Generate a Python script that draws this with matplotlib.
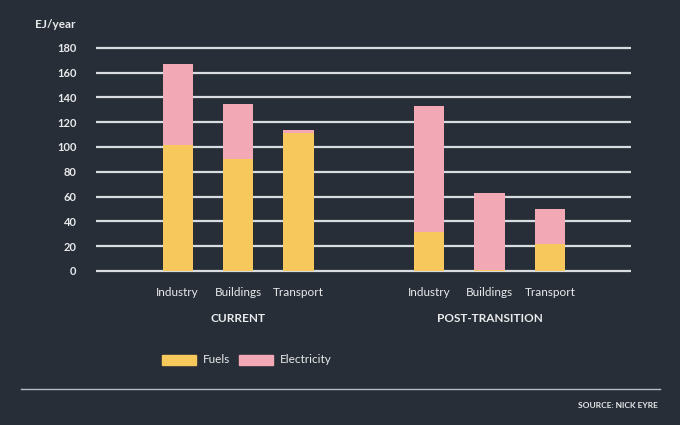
import matplotlib.pyplot as plt
from matplotlib.patches import Rectangle
from matplotlib.lines import Line2D

plt.rcParams['font.family'] = ['Lato', 'DejaVu Sans']

sectors = ["Industry", "Buildings", "Transport"]
groups = ["CURRENT", "POST-TRANSITION"]
fuels_current = [102, 90, 111]
elec_current = [65, 45, 3]
fuels_post = [31, 1, 22]
elec_post = [102, 62, 28]
yticks = [0, 20, 40, 60, 80, 100, 120, 140, 160, 180]

bg = "#272e37"
yellow = "#f7c95c"
pink = "#f2a8b5"
txt = "#e9eaec"
grid = "#d9dde2"

fig = plt.figure(figsize=(6.8, 4.25), dpi=100, facecolor=bg)
ax = fig.add_axes([0.1412, 0.357, 0.7868, 0.536])
ax.set_facecolor(bg)

xc = [0, 1, 2]
xp = [4.16, 5.16, 6.16]
w = 0.5
ax.bar(xc, fuels_current, w, color=yellow, zorder=3)
ax.bar(xc, elec_current, w, bottom=fuels_current, color=pink, zorder=3)
ax.bar(xp, fuels_post, w, color=yellow, zorder=3)
ax.bar(xp, elec_post, w, bottom=fuels_post, color=pink, zorder=3)

ax.set_xlim(-1.35, 7.5)
ax.set_ylim(-2, 182)
ax.set_yticks(yticks)
ax.set_yticklabels([str(t) for t in yticks], color=txt, fontsize=8, fontweight='bold')
ax.tick_params(axis='y', length=0, pad=14)
ax.set_xticks(xc + xp)
ax.set_xticklabels(sectors + sectors, color=txt, fontsize=8.5)
ax.tick_params(axis='x', length=0, pad=10)
for t in yticks:
    ax.axhline(t, color=grid, lw=1.6, zorder=1)
for s in ax.spines.values():
    s.set_visible(False)

fig.text(76 / 680, 1 - 25 / 425, "EJ/year", color=txt, fontsize=8.5, fontweight='bold',
         ha='right', va='center')
fig.text(238 / 680, 1 - 318 / 425, groups[0], color=txt, fontsize=8.5, fontweight='bold',
         ha='center', va='center')
fig.text(489.5 / 680, 1 - 318 / 425, groups[1], color=txt, fontsize=8.5, fontweight='bold',
         ha='center', va='center')

# legend
for x0, c, lab in [(162, yellow, "Fuels"), (239, pink, "Electricity")]:
    fig.patches.append(Rectangle((x0 / 680, 1 - 364.5 / 425), 34 / 680, 10 / 425,
                                 transform=fig.transFigure, color=c))
    fig.text((x0 + 41) / 680, 1 - 359.5 / 425, lab, color=txt, fontsize=8.5,
             ha='left', va='center')

fig.lines.append(Line2D([21 / 680, 660 / 680], [1 - 388.5 / 425] * 2,
                        transform=fig.transFigure, color="#b7bcc3", lw=1))
fig.text(658 / 680, 1 - 405 / 425, "SOURCE: NICK EYRE", color=txt, fontsize=6,
         fontweight='bold', ha='right', va='center')

fig.savefig("out.png", dpi=100, facecolor=bg)
